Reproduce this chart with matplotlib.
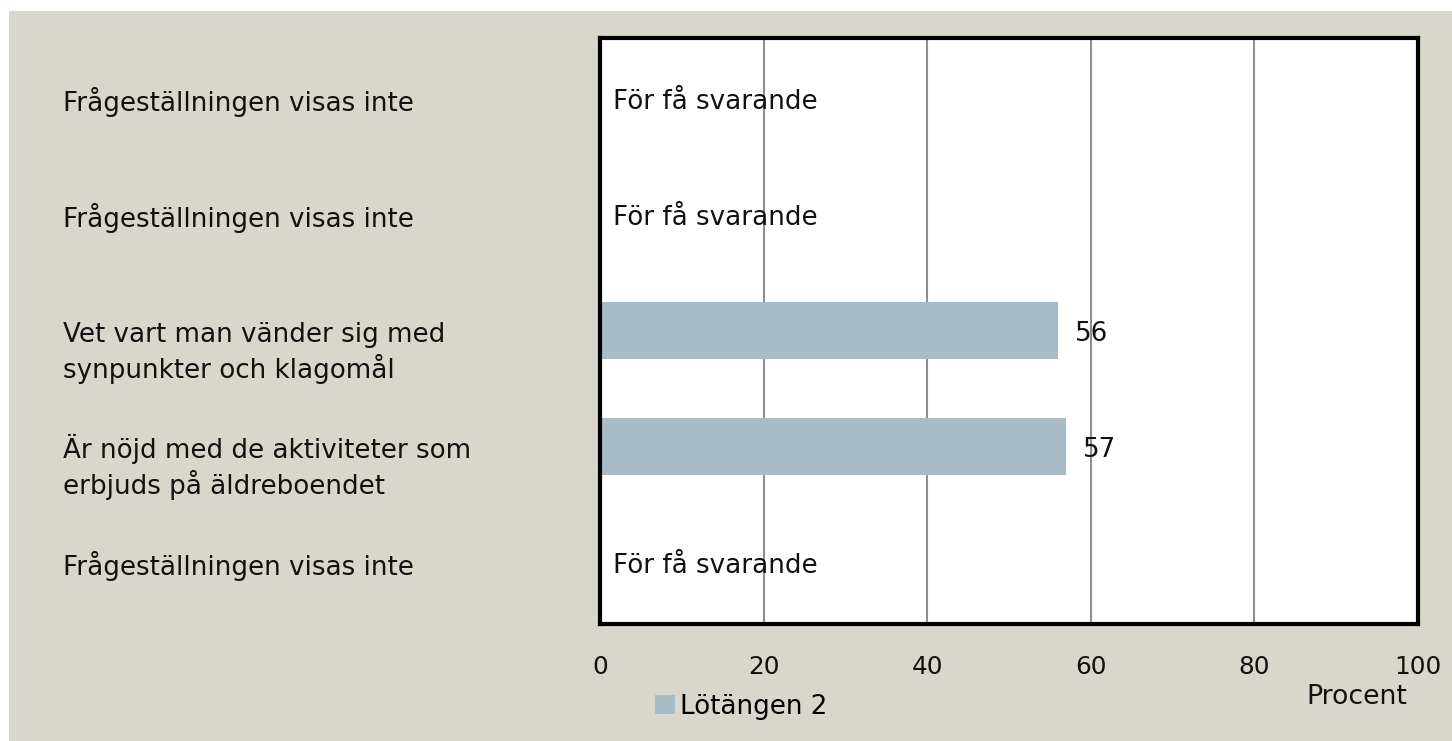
import matplotlib
matplotlib.use("Agg")
import matplotlib.pyplot as plt
from matplotlib.patches import Rectangle
import matplotlib.transforms as mtransforms

categories = [
    "Frågeställningen visas inte",
    "Frågeställningen visas inte",
    "Vet vart man vänder sig med\nsynpunkter och klagomål",
    "Är nöjd med de aktiviteter som\nerbjuds på äldreboendet",
    "Frågeställningen visas inte",
]
values = [None, None, 56, 57, None]
missing_text = "För få svarande"
series_name = "Lötängen 2"
xticks = [0, 20, 40, 60, 80, 100]
xlabel = "Procent"

BG = "#D9D7CB"
BAR = "#A8BCC7"
FS = 18.8
TXT = "#111111"

plt.rcParams['font.family'] = ['DejaVu Sans']

fig = plt.figure(figsize=(14.52, 7.41), dpi=100)
fig.patch.set_facecolor("white")
fig.patches.append(Rectangle((9 / 1452, 0), 1 - 9 / 1452, 1 - 11 / 741,
                             transform=fig.transFigure, facecolor=BG,
                             edgecolor="none", zorder=-10))

ax = fig.add_axes([600 / 1452, 1 - 624 / 741, 818 / 1452, 586 / 741])
ax.set_facecolor("white")

ypos = list(range(len(categories)))
bar_vals = [v if v is not None else 0 for v in values]
ax.barh(ypos, bar_vals, height=0.49, color=BAR, zorder=3, label=series_name)

down4 = mtransforms.ScaledTranslation(0, -4 / 100, fig.dpi_scale_trans)
for y, v in zip(ypos, values):
    if v is None:
        ax.text(1.6, y, missing_text, va="center", ha="left", fontsize=FS,
                color=TXT, zorder=4, transform=ax.transData + down4)
    else:
        ax.text(v + 2.0, y, f"{v}", va="center", ha="left", fontsize=FS,
                color=TXT, zorder=4, transform=ax.transData + down4)

ax.set_xlim(0, 100)
ax.set_ylim(4.53, -0.52)
ax.set_xticks(xticks)
ax.set_xticklabels([str(t) for t in xticks], fontsize=FS - 1, color=TXT)
ax.tick_params(axis="x", length=0, pad=22)
ax.set_yticks([])
ax.grid(axis="x", color="#8f8f8f", linewidth=1.5, zorder=1)
ax.set_axisbelow(True)
for sp in ax.spines.values():
    sp.set_linewidth(3.0)
    sp.set_color("black")
    sp.set_zorder(5)

# category labels (left aligned, first baseline slightly below row centre)
trans = mtransforms.blended_transform_factory(fig.transFigure, ax.transData)
LINE_PX = 35
for y, lab in zip(ypos, categories):
    n = lab.count("\n")
    offset = mtransforms.ScaledTranslation(0, -(13 + n * LINE_PX) / 100,
                                           fig.dpi_scale_trans)
    ax.text(63 / 1452, y, lab, transform=trans + offset, ha="left",
            va="baseline", fontsize=FS, color=TXT, linespacing=1.27)

ax.set_xlabel(xlabel, fontsize=FS + 0.5, color=TXT, va="center")
ax.xaxis.set_label_coords((1357 - 600) / 818, (624 - 697) / 586)

ax.legend(loc="center left", bbox_to_anchor=(655 / 1452, 1 - 707 / 741),
          bbox_transform=fig.transFigure, frameon=False, fontsize=FS,
          handlelength=0.75, handleheight=0.75, handletextpad=0.2,
          borderpad=0, borderaxespad=0)

fig.savefig("out.png", dpi=100, facecolor=fig.get_facecolor())
